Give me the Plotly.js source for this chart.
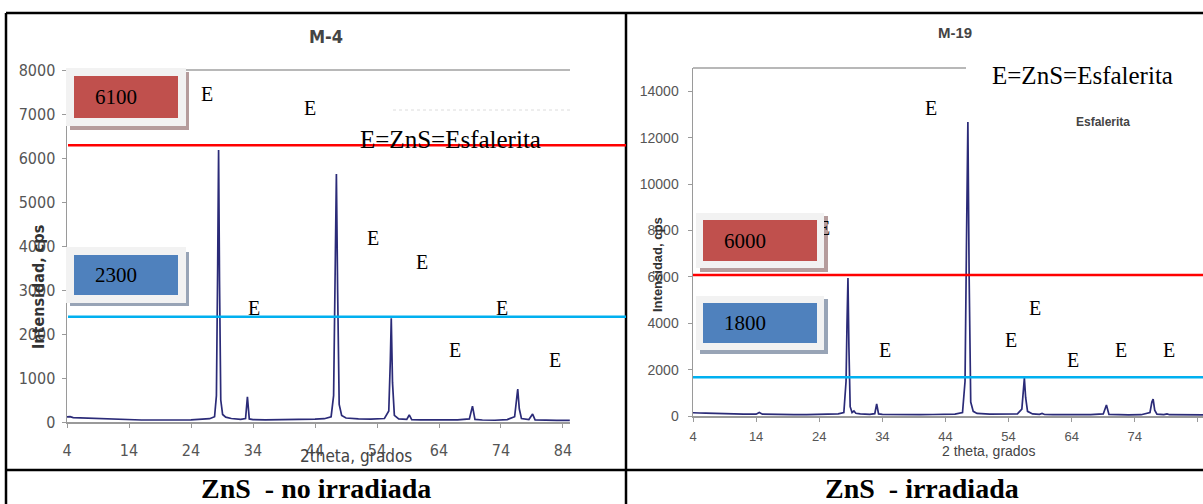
<!DOCTYPE html>
<html>
<head>
<meta charset="utf-8">
<script src="https://cdn.plot.ly/plotly-3.0.1.min.js"></script>
<style>html,body{margin:0;padding:0;background:#fff;}#chart{width:1203px;height:504px;}</style>
</head>
<body>
<div id="chart"></div>
<script>
// ---------- data ----------
const xTicks = [4, 14, 24, 34, 44, 54, 64, 74, 84];
const m4YTicks = [0, 1000, 2000, 3000, 4000, 5000, 6000, 7000, 8000];
const m19YTicks = [0, 2000, 4000, 6000, 8000, 10000, 12000, 14000];

const m4Theta = [4,4.5,5,6,7,8,10,12,14,16,18,20,22,24,25,26,27,27.8,28.1,28.3,28.45,28.6,28.8,29.1,29.6,30.5,32,32.8,33.1,33.4,34,36,38,40,42,44,45.5,46.6,47.0,47.25,47.45,47.65,47.9,48.3,49,51,53,55.2,55.9,56.15,56.3,56.5,56.8,57.5,58.8,59.2,59.6,61,63,65,67,68.9,69.4,69.8,71,73,75,76.2,76.5,76.7,76.95,77.3,78.5,79.1,79.5,81,83,85.1];
const m4Counts = [115,120,100,95,80,70,60,55,50,45,45,40,45,50,55,60,75,120,600,3500,6180,3200,500,170,110,80,60,80,570,70,55,50,50,55,60,65,75,120,600,3800,5636,3000,400,150,90,70,65,80,250,1400,2360,900,150,70,60,160,55,50,45,45,50,70,360,60,45,40,55,120,500,750,300,80,55,180,50,40,35,35];

const m19Theta = [4,4.5,5,6,8,10,12,14,14.5,15,16,18,20,22,24,25,26,27,27.9,28.25,28.4,28.55,28.7,28.9,29.2,29.5,29.8,30.5,32,32.8,33.1,33.4,34,36,38,40,42,44,45.5,46.7,47.1,47.35,47.55,47.75,48.0,48.4,49,51,53,55.4,56.1,56.35,56.5,56.7,57,57.8,58.9,59.3,59.7,61,63,65,67,69.0,69.5,69.9,71,73,75,76.4,76.7,76.9,77.15,77.5,78.6,79.1,79.5,81,83,85];
const m19Counts = [140,150,130,120,100,90,80,80,150,80,70,60,60,55,60,65,70,90,150,1500,4000,5945,3000,400,150,215,120,90,70,100,517,90,70,60,60,60,65,70,80,150,1500,8000,12667,6000,600,200,110,80,75,90,300,1200,1637,800,200,90,70,110,65,60,55,55,60,90,474,70,55,50,55,150,600,732,250,80,60,90,55,50,45,45];

const m4Levels = [6290, 2390];      // red, blue reference lines
const m4LevelLabels = ['6100', '2300'];
const m19Levels = [6075, 1667];
const m19LevelLabels = ['6000', '1800'];

const m4Peaks = [[207,94],[310,108],[373,238],[422,262],[254,308],[502,308],[455,350],[555,360]];
const m19Peaks = [[931,108],[885,350],[1035,308],[1011,340],[1073,360],[1121,350],[1169,350]];

// ---------- helpers (pixel -> paper) ----------
const W = 1203, H = 504;
const px = v => v / W;
const py = v => 1 - v / H;

const serif = 'Liberation Serif, Times New Roman, serif';
const sans = 'Liberation Sans, Arial, sans-serif';
const narrow = 'Liberation Sans Narrow, DejaVu Sans Condensed, Liberation Sans, Arial, sans-serif';
const nb = '\u00a0';

const traces = [
  {x: m4Theta, y: m4Counts, xaxis: 'x', yaxis: 'y', type: 'scatter', mode: 'lines',
   line: {color: '#2b2b78', width: 1.7}, hoverinfo: 'skip'},
  {x: m19Theta, y: m19Counts, xaxis: 'x2', yaxis: 'y2', type: 'scatter', mode: 'lines',
   line: {color: '#2b2b78', width: 1.7}, hoverinfo: 'skip'}
];

const axBase = {
  showgrid: false, zeroline: false, showline: true, linecolor: '#9a9a9a', linewidth: 1.5,
  ticks: 'outside', ticklen: 4, tickcolor: '#9a9a9a', tickmode: 'array', fixedrange: true
};

const shapes = [];
function hline(x0, x1, y, color, width, dash) {
  shapes.push({type: 'line', xref: 'paper', yref: 'paper', x0: px(x0), x1: px(x1), y0: py(y), y1: py(y),
    line: {color: color, width: width, dash: dash || 'solid'}});
}
function vline(x, y0, y1, color, width) {
  shapes.push({type: 'line', xref: 'paper', yref: 'paper', x0: px(x), x1: px(x), y0: py(y0), y1: py(y1),
    line: {color: color, width: width}});
}
function rect(x0, y0, x1, y1, fill) {
  shapes.push({type: 'rect', xref: 'paper', yref: 'paper', x0: px(x0), x1: px(x1), y0: py(y0), y1: py(y1),
    fillcolor: fill, line: {width: 0}});
}
// table
hline(6, 1203, 13, '#000', 2.5);
hline(6, 1203, 470, '#000', 2.5);
vline(6, 13, 504, '#000', 2.5);
vline(626, 13, 504, '#000', 2.5);
// plot top frames
hline(67, 570, 70, '#a0a0a0', 1.5);
hline(693, 966, 68, '#a0a0a0', 1.5);
hline(393, 570, 110, '#dcdcdc', 1, 'dot');
// reference lines (data y)
const refColors = ['#ff0000', '#00b0f0'];
m4Levels.forEach((v, i) => shapes.push({type: 'line', xref: 'paper', yref: 'y', x0: px(68), x1: px(626), y0: v, y1: v,
  line: {color: refColors[i], width: 2.5}}));
m19Levels.forEach((v, i) => shapes.push({type: 'line', xref: 'paper', yref: 'y2', x0: px(693), x1: 1, y0: v, y1: v,
  line: {color: refColors[i], width: 2.5}}));
// box shadows
rect(70, 72, 189, 130, '#b59c9c');
rect(70, 252, 189, 306, '#98a4b6');
rect(700, 216, 828, 272, '#b59c9c');
rect(700, 299, 828, 354, '#98a4b6');

const ann = [];
function txt(text, x, y, font, extra) {
  ann.push(Object.assign({text: text, x: px(x), y: py(y), xref: 'paper', yref: 'paper',
    showarrow: false, xanchor: 'center', yanchor: 'middle', font: font}, extra || {}));
}
// axis titles
txt('<b>Intensidad, cps</b>', 38, 287, {family: narrow, size: 16, color: '#333'}, {textangle: -90});
txt('<b>Intensidad, cps</b>', 657, 265, {family: sans, size: 13, color: '#333'}, {textangle: -90});
txt('<b>M-4</b>', 326, 37, {family: narrow, size: 18, color: '#444'});
txt('<b>M-19</b>', 955, 33, {family: sans, size: 15, color: '#444'});
txt('2theta, grados', 356, 456, {family: narrow, size: 17, color: '#444'});
txt('2 theta, grados', 988, 451, {family: sans, size: 14, color: '#444'});
txt('<b>Esfalerita</b>', 1103, 122, {family: sans, size: 12, color: '#444'});
// E markers
const eFont = {family: serif, size: 20, color: '#000'};
m4Peaks.forEach(p => txt('E', p[0], p[1], eFont));
m19Peaks.forEach(p => txt('E', p[0], p[1], eFont));
txt('E', 824, 228, eFont);
txt('E=ZnS=Esfalerita', 450, 139, {family: serif, size: 25, color: '#000'});
txt('E=ZnS=Esfalerita', 1082, 75, {family: serif, size: 25, color: '#000'}, {bgcolor: '#fff'});
// level boxes
function box(label, cx, cy, w, h, bw, fill) {
  txt(nb + nb + nb + nb + label, cx, cy, {family: serif, size: 21, color: '#000'},
    {width: w, height: h, align: 'left', bgcolor: fill, bordercolor: '#f2f2f2', borderwidth: bw, borderpad: 0});
}
box(m4LevelLabels[0], 126, 96.5, 104, 42, 8, '#c0504d');
box(m4LevelLabels[1], 126, 275, 104, 40, 8, '#4f81bd');
box(m19LevelLabels[0], 760, 240, 114, 41, 7, '#c0504d');
box(m19LevelLabels[1], 760, 322.5, 114, 40, 7, '#4f81bd');
// captions
txt('<b>ZnS' + nb + nb + '- no irradiada</b>', 316, 488, {family: serif, size: 28, color: '#000'});
txt('<b>ZnS' + nb + nb + '- irradiada</b>', 922, 488, {family: serif, size: 28, color: '#000'});

const layout = {
  width: W, height: H, margin: {l: 0, r: 0, t: 0, b: 0},
  paper_bgcolor: '#fff', plot_bgcolor: 'rgba(0,0,0,0)', showlegend: false,
  xaxis: Object.assign({}, axBase, {domain: [px(67), px(570)], range: [4, 85.13], anchor: 'y',
    tickvals: xTicks, ticktext: xTicks.map(String), ticklabelstandoff: 9,
    tickfont: {family: narrow, size: 16, color: '#555'}}),
  yaxis: Object.assign({}, axBase, {domain: [py(422), py(70)], range: [0, 8000], anchor: 'x',
    tickvals: m4YTicks, ticktext: m4YTicks.map(String), ticklabelstandoff: 3,
    tickfont: {family: narrow, size: 16, color: '#555'}}),
  xaxis2: Object.assign({}, axBase, {domain: [px(693), 1], range: [4, 84.8], anchor: 'y2',
    tickvals: xTicks, ticktext: xTicks.map(String), ticklabelstandoff: 4,
    tickfont: {family: sans, size: 13, color: '#555'}}),
  yaxis2: Object.assign({}, axBase, {domain: [py(416), py(68)], range: [0, 15000], anchor: 'x2',
    tickvals: m19YTicks, ticktext: m19YTicks.map(String), ticklabelstandoff: 6,
    tickfont: {family: sans, size: 14, color: '#555'}}),
  shapes: shapes,
  annotations: ann
};

Plotly.newPlot('chart', traces, layout, {staticPlot: true, displayModeBar: false});
</script>
</body>
</html>
